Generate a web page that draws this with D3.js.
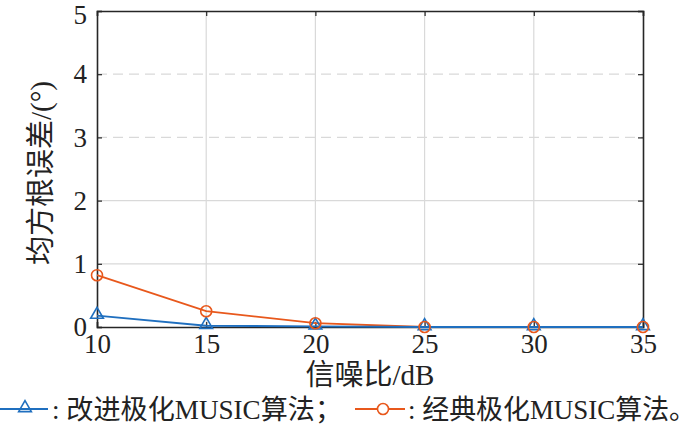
<!DOCTYPE html>
<html>
<head>
<meta charset="utf-8">
<script src="https://cdn.jsdelivr.net/npm/d3@7"></script>
<style>
  body { margin: 0; background: #fff; }
  text { font-family: "Liberation Serif", "Noto Sans CJK SC", serif; fill: #222; }
</style>
</head>
<body>
<script>
// SNR values (dB) and RMSE (deg)
var snr = [10, 15, 20, 25, 30, 35];
var improved = [0.18, 0.02, 0.01, 0, 0, 0];
var classic = [0.82, 0.25, 0.06, 0, 0, 0];
var yTicks = [0, 1, 2, 3, 4, 5];
var dashedRows = [3, 4];

var w = 700, h = 425;
var pLeft = 97, pRight = 643, pTop = 11, pBottom = 327;

var svg = d3.select("body").append("svg")
  .attr("width", w)
  .attr("height", h);

var x = d3.scaleLinear().domain([10, 35]).range([pLeft, pRight]);
var y = d3.scaleLinear().domain([0, 5]).range([pBottom, pTop]);

// grid
svg.selectAll(".vgrid")
  .data(snr.slice(1, -1))
  .enter().append("line")
  .attr("x1", function(d) { return x(d); })
  .attr("x2", function(d) { return x(d); })
  .attr("y1", pTop).attr("y2", pBottom)
  .attr("stroke", "#d9d9d9").attr("stroke-width", 1.2);

svg.selectAll(".hgrid")
  .data(yTicks.slice(1, -1))
  .enter().append("line")
  .attr("x1", pLeft).attr("x2", pRight)
  .attr("y1", function(d) { return y(d); })
  .attr("y2", function(d) { return y(d); })
  .attr("stroke", "#d9d9d9").attr("stroke-width", 1.2)
  .attr("stroke-dasharray", function(d) { return dashedRows.indexOf(d) >= 0 ? "10,6" : null; });

// axes
var xAxis = svg.append("g")
  .attr("transform", "translate(0," + pBottom + ")")
  .call(d3.axisBottom(x).tickValues(snr).tickSize(-5).tickPadding(6).tickFormat(d3.format("d")));
var xTop = svg.append("g")
  .attr("transform", "translate(0," + pTop + ")")
  .call(d3.axisTop(x).tickValues(snr).tickSize(-5).tickFormat(""));
var yAxis = svg.append("g")
  .attr("transform", "translate(" + pLeft + ",0)")
  .call(d3.axisLeft(y).tickValues(yTicks).tickSize(-5).tickPadding(10).tickFormat(d3.format("d")));
var yRight = svg.append("g")
  .attr("transform", "translate(" + pRight + ",0)")
  .call(d3.axisRight(y).tickValues(yTicks).tickSize(-5).tickFormat(""));

[xAxis, xTop, yAxis, yRight].forEach(function(g) {
  g.attr("font-family", "Liberation Serif");
  g.select(".domain").attr("stroke", "#262626").attr("stroke-width", 1.6);
  g.selectAll(".tick line").attr("stroke", "#262626").attr("stroke-width", 1.2);
  g.selectAll("text").attr("font-size", "27px").attr("fill", "#222");
});
xAxis.selectAll("text").attr("dy", "0.75em");
yAxis.selectAll("text").filter(function(d) { return d === 5; }).attr("dy", "0.38em").attr("y", 2);

// lines
var line = d3.line()
  .x(function(d, i) { return x(snr[i]); })
  .y(function(d) { return y(d); });

var blue = "#1f6fbf", orange = "#e8581c";

svg.append("path").datum(classic)
  .attr("d", line).attr("fill", "none")
  .attr("stroke", orange).attr("stroke-width", 1.8);
svg.append("path").datum(improved)
  .attr("d", line).attr("fill", "none")
  .attr("stroke", blue).attr("stroke-width", 1.8);

var tri = d3.symbol().type(d3.symbolTriangle).size(70);

svg.selectAll(".tri")
  .data(improved)
  .enter().append("path")
  .attr("d", tri)
  .attr("transform", function(d, i) { return "translate(" + x(snr[i]) + "," + (y(d) - 1) + ")"; })
  .attr("fill", "none").attr("stroke", blue).attr("stroke-width", 1.6);

svg.selectAll(".circ")
  .data(classic)
  .enter().append("circle")
  .attr("cx", function(d, i) { return x(snr[i]); })
  .attr("cy", function(d) { return y(d); })
  .attr("r", 5.5)
  .attr("fill", "none").attr("stroke", orange).attr("stroke-width", 1.6);

// axis labels
svg.append("text")
  .attr("x", 370).attr("y", 385)
  .attr("text-anchor", "middle")
  .attr("font-size", "29px")
  .text("信噪比/dB");

svg.append("text")
  .attr("transform", "translate(51,173) rotate(-90)")
  .attr("text-anchor", "middle")
  .attr("font-size", "29px")
  .text("均方根误差/(°)");

// legend
var ly = 409;
svg.append("line").attr("x1", 0).attr("x2", 48).attr("y1", ly).attr("y2", ly)
  .attr("stroke", blue).attr("stroke-width", 1.8);
svg.append("path").attr("d", tri)
  .attr("transform", "translate(25," + (ly - 1) + ")")
  .attr("fill", "none").attr("stroke", blue).attr("stroke-width", 1.6);
svg.append("text").attr("x", 52).attr("y", ly + 10)
  .attr("font-size", "27px")
  .attr("textLength", 290).attr("lengthAdjust", "spacingAndGlyphs")
  .text(": 改进极化MUSIC算法；");

svg.append("line").attr("x1", 355).attr("x2", 405).attr("y1", ly).attr("y2", ly)
  .attr("stroke", orange).attr("stroke-width", 1.8);
svg.append("circle").attr("cx", 383).attr("cy", ly).attr("r", 5.5)
  .attr("fill", "#fff").attr("stroke", orange).attr("stroke-width", 1.6);
svg.append("text").attr("x", 408).attr("y", ly + 10)
  .attr("font-size", "27px")
  .attr("textLength", 288).attr("lengthAdjust", "spacingAndGlyphs")
  .text(": 经典极化MUSIC算法。");
</script>
</body>
</html>
